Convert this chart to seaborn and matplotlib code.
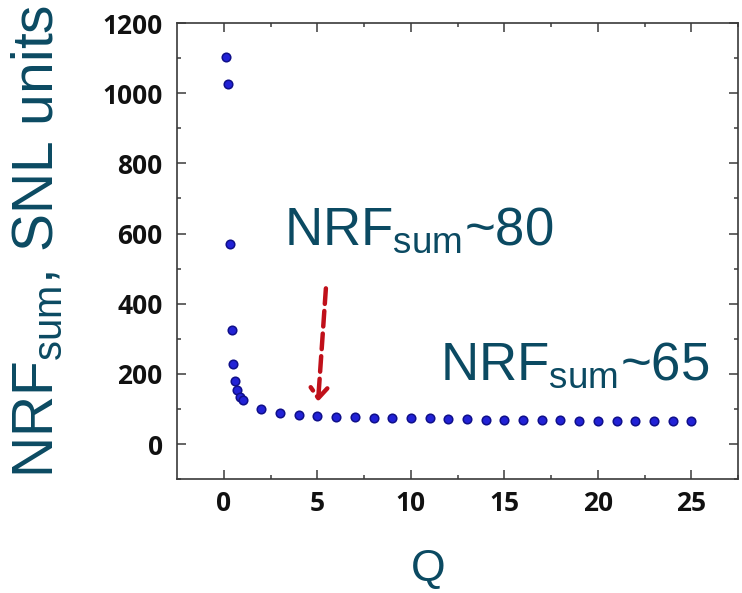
import matplotlib
matplotlib.use("Agg")
import matplotlib.pyplot as plt
import seaborn as sns
import pandas as pd

# Summed NRF versus Q
q_values = [0.1, 0.2, 0.3, 0.4, 0.5, 0.6, 0.7, 0.85, 1.0,
            2, 3, 4, 5, 6, 7, 8, 9, 10, 11, 12, 13, 14, 15, 16, 17,
            18, 19, 20, 21, 22, 23, 24, 25]
nrf_sum = [1102, 1026, 570, 326, 228, 181, 154, 135, 126,
           100, 88, 82, 80, 78, 77, 76, 75, 75, 74, 73, 72, 70, 70, 69, 69,
           68, 67, 67, 67, 67, 67, 67, 66]

x_ticks = [0, 5, 10, 15, 20, 25]
y_ticks = [0, 200, 400, 600, 800, 1000, 1200]

note_q = [5.45, 5.03]
note_y = [444, 121]

TEAL = "#0b4a62"
RED = "#c0101a"

sns.set_style("ticks")
plt.rcParams["mathtext.fontset"] = "custom"
plt.rcParams["mathtext.rm"] = "Liberation Sans"
plt.rcParams["mathtext.it"] = "Liberation Sans:italic"

df = pd.DataFrame({"Q": q_values, "NRF": nrf_sum})

fig = plt.figure(figsize=(7.42, 5.93), dpi=100)
ax = fig.add_axes([177.3 / 742, 1 - 479.3 / 593, (738 - 177.3) / 742, (479.3 - 23) / 593])

sns.scatterplot(data=df, x="Q", y="NRF", ax=ax, s=38, color="#2222d6",
                edgecolor="#10108a", linewidth=1.1, zorder=3)

ax.set_xticks(x_ticks)
ax.set_yticks(y_ticks)
ax.set_xticks([v + 2.5 for v in [-2.5] + x_ticks], minor=True)
ax.set_yticks(list(range(-100, 1201, 100)), minor=True)
ax.set_xlim(-2.5, 27.5)
ax.set_ylim(-100, 1200)
ax.set_xlabel("")
ax.set_ylabel("")

for side in ["top", "right", "bottom", "left"]:
    ax.spines[side].set_visible(True)
    ax.spines[side].set_color("#3a3a3a")
    ax.spines[side].set_linewidth(1.2)

ax.tick_params(which="both", direction="in", top=True, right=True,
               color="#3a3a3a", width=1.1)
ax.tick_params(which="major", length=6.5)
ax.tick_params(which="minor", length=3.2)
ax.tick_params(axis="y", which="major", pad=10.5)
ax.tick_params(axis="x", which="major", pad=8)
for lab in ax.get_xticklabels() + ax.get_yticklabels():
    lab.set_fontfamily("Open Sans")
    lab.set_fontweight("bold")
    lab.set_fontsize(19)
    lab.set_color("#111111")

# dashed arrow pointing at the Q = 5 point
ax.annotate("", xy=(note_q[1], note_y[1]), xytext=(note_q[0], note_y[0]),
            arrowprops=dict(arrowstyle="->,head_length=0.75,head_width=0.6",
                            color=RED, lw=3.2, linestyle=(0, (3.5, 1.6)),
                            shrinkA=0, shrinkB=0))

fig.text(284 / 742, 1 - 245 / 593, r"NRF$_{\rm sum}$~80", color=TEAL,
         fontsize=38, family="Liberation Sans", ha="left", va="baseline")
fig.text(440 / 742, 1 - 380 / 593, r"NRF$_{\rm sum}$~65", color=TEAL,
         fontsize=38, family="Liberation Sans", ha="left", va="baseline")

fig.text(11 / 742, 1 - 241 / 593, r"NRF$_{\rm sum}$, SNL units", color=TEAL,
         fontsize=41, family="Liberation Sans", rotation=90,
         ha="left", va="center")
fig.text(428 / 742, 1 - 581 / 593, "Q", color=TEAL, fontsize=32,
         family="Liberation Sans", ha="center", va="baseline")

fig.savefig("out.png", dpi=100)
